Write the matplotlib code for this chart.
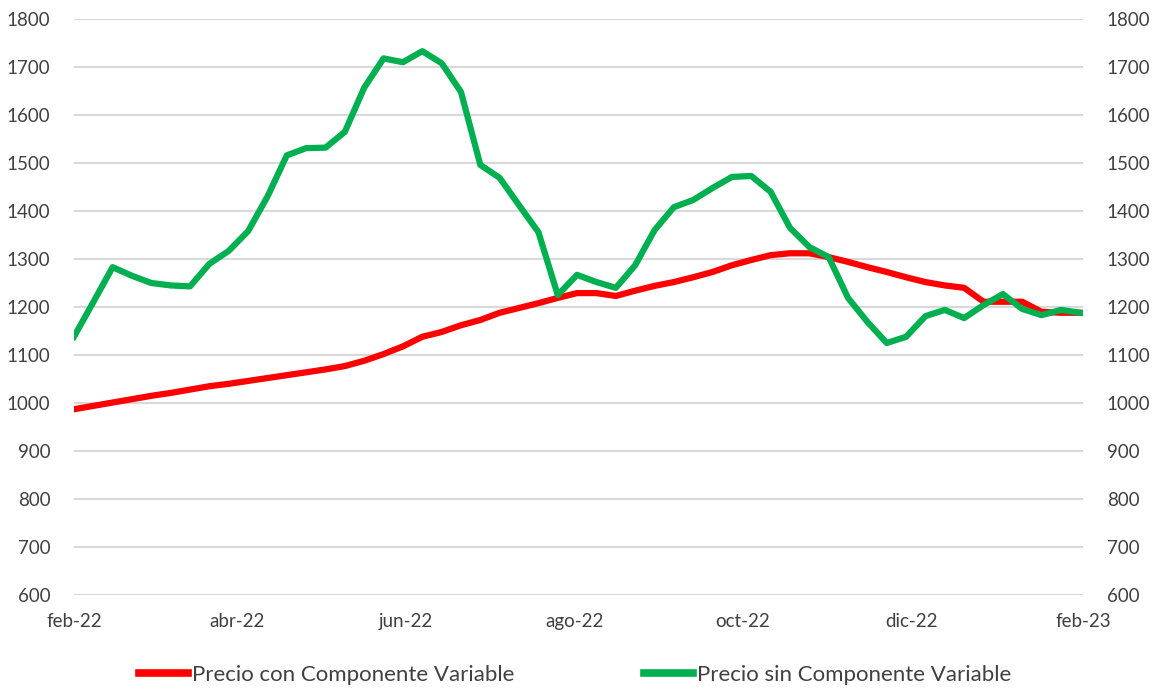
import numpy as np
import pandas as pd
import matplotlib
matplotlib.use("Agg")
import matplotlib.pyplot as plt

plt.rcParams['font.family'] = ['Lato', 'DejaVu Sans']

# Datos semanales (feb-22 a ene-23)
fechas = pd.date_range("2022-02-01", periods=53, freq="7D")

precio_con = [987, 994, 1001, 1008, 1015, 1021, 1028, 1035, 1040, 1046,
              1052, 1058, 1064, 1070, 1077, 1088, 1102, 1118, 1138, 1148,
              1162, 1173, 1188, 1198, 1208, 1219, 1229, 1229, 1223, 1234,
              1244, 1252, 1262, 1273, 1287, 1298, 1308, 1312, 1312, 1304,
              1294, 1283, 1273, 1262, 1252, 1245, 1240, 1211, 1211, 1211,
              1190, 1188, 1188]

precio_sin = [1138, 1210, 1283, 1265, 1250, 1245, 1243, 1290, 1317, 1358,
              1430, 1516, 1531, 1532, 1565, 1657, 1718, 1710, 1733, 1708,
              1648, 1496, 1469, 1412, 1356, 1225, 1267, 1252, 1240, 1287,
              1360, 1408, 1423, 1448, 1471, 1473, 1440, 1365, 1325, 1304,
              1219, 1169, 1125, 1138, 1181, 1194, 1177, 1204, 1227, 1196,
              1183, 1194, 1188]

tick_fechas = pd.to_datetime(["2022-02-01", "2022-04-01", "2022-06-01", "2022-08-01",
                              "2022-10-01", "2022-12-01", "2023-02-01"])
tick_labels = ["feb-22", "abr-22", "jun-22", "ago-22", "oct-22", "dic-22", "feb-23"]

fig = plt.figure(figsize=(11.55, 6.89), dpi=100)
ax = fig.add_axes([0.064, 0.1364, 0.8737, 0.836])
ax2 = ax.twinx()

ax.plot(fechas, precio_con, color='#FF0000', lw=4.5, label='Precio con Componente Variable',
        solid_joinstyle='round', zorder=3)
ax.plot(fechas, precio_sin, color='#00B050', lw=4.5, label='Precio sin Componente Variable',
        solid_joinstyle='round', zorder=4)

for a in (ax, ax2):
    a.set_ylim(600, 1800)
    a.set_yticks(np.arange(600, 1801, 100))
    for s in a.spines.values():
        s.set_visible(False)
    a.tick_params(length=0, labelsize=13.5, colors='#404040')

ax.set_xlim(tick_fechas[0], tick_fechas[-1])
ax.set_xticks(tick_fechas)
ax.set_xticklabels(tick_labels)
ax.tick_params(axis='x', pad=13)
ax.tick_params(axis='y', pad=17)
ax2.tick_params(axis='y', pad=17)
ax.grid(axis='y', color='#d9d9d9', lw=1.5)
ax.set_axisbelow(True)

leg = fig.legend(loc='center', bbox_to_anchor=(0.498, 0.02), ncol=2, frameon=False,
                 fontsize=16, handlelength=2.2, handletextpad=0.2, columnspacing=5.8,
                 labelcolor='#404040')
for h in leg.get_lines():
    h.set_linewidth(5.5)

fig.savefig('out.png', dpi=100)
